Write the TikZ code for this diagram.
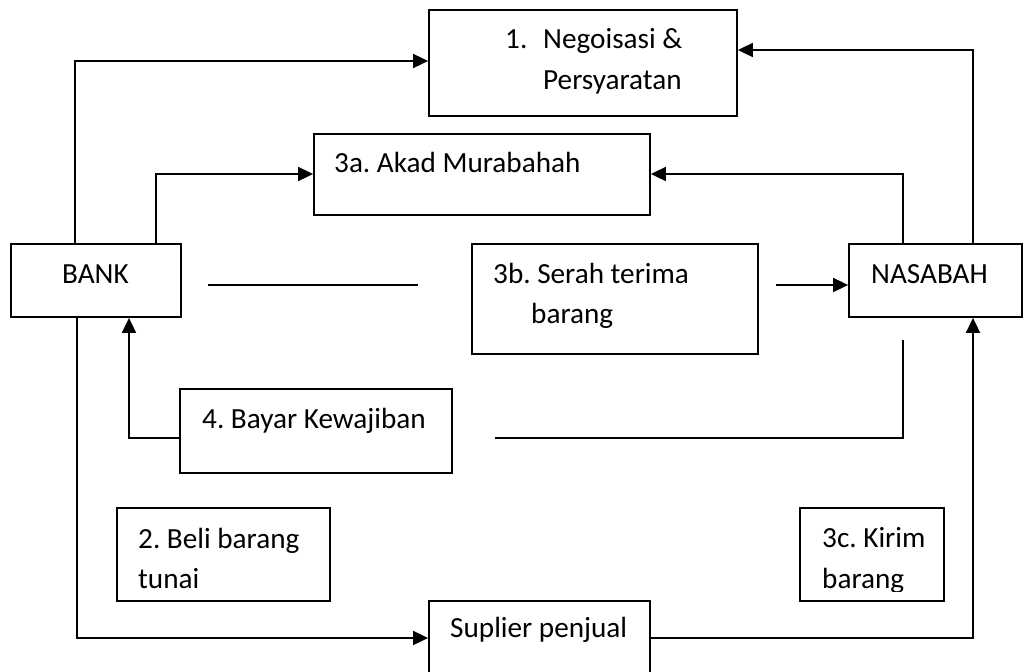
\documentclass[tikz,border=0pt]{standalone}
\usepackage{fontspec}
\setmainfont{Carlito}
\usetikzlibrary{arrows.meta}
\frenchspacing
\tikzset{
  box/.style={draw=black, line width=1.8pt, minimum width=#1, inner sep=0pt},
  txt/.style={anchor=base west, inner sep=0pt, font=\fontsize{29.2}{35}\selectfont},
  conn/.style={line width=1.8pt},
  arr/.style={line width=1.8pt, -{Triangle[length=15pt,width=14pt]}},
}
\begin{document}
\frenchspacing
\begin{tikzpicture}[x=1pt,y=-1pt]
\useasboundingbox (0,0) rectangle (1026,672);
\clip (0,0) rectangle (1026,672);
\fill[white] (0,0) rectangle (1026,672);
% boxes
\node[box=308pt, minimum height=106pt] (b1) at (583,63) {};
\node[box=336pt, minimum height=81pt] (b3a) at (482,174.5) {};
\node[box=170pt, minimum height=73pt] (bank) at (96,280.5) {};
\node[box=286pt, minimum height=110pt] (b3b) at (615,299) {};
\node[box=173pt, minimum height=73pt] (nas) at (935.5,280.5) {};
\node[box=272pt, minimum height=84pt] (b4) at (316,431) {};
\node[box=213pt, minimum height=93pt] (b2) at (223.5,554.5) {};
\node[box=144pt, minimum height=93pt] (b3c) at (872,554.5) {};
\node[box=221pt, minimum height=120pt] (sup) at (539.5,661) {};
% texts
\node[txt] (t1a) at (505,48) {1.};
\node[txt] (t1b) at (543,48) {Negoisasi \&};
\node[txt] (t1c) at (543,89) {Persyaratan};
\node[txt] (t3a) at (334,172) {3a. Akad Murabahah};
\node[txt] (tbank) at (62,283) {BANK};
\node[txt] (t3b1) at (493,283) {3b. Serah terima};
\node[txt] (t3b2) at (531,323) {barang};
\node[txt] (tnas) at (871,283) {NASABAH};
\node[txt] (t4) at (202,428) {4. Bayar Kewajiban};
\node[txt] (t2a) at (138,548) {2. Beli barang};
\node[txt] (t2b) at (138,588) {tunai};
\node[txt] (t3c1) at (822,547) {3c. Kirim};
\begin{scope}
\clip (800,508) rectangle (944,591);
\node[txt] (t3c2) at (822,588) {barang};
\end{scope}
\node[txt] (tsup) at (450,637) {Suplier penjual};
% connectors
\draw[arr] (bank.north -| 75,0) |- (b1.west |- 0,61);
\draw[arr] (bank.north -| 156,0) |- (b3a.west |- 0,174);
\draw[arr] (nas.north -| 973,0) |- (b1.east |- 0,50);
\draw[arr] (nas.north -| 903,0) |- (b3a.east |- 0,174);
\coordinate (l1s) at (208,285);
\coordinate (l1e) at (418,285);
\draw[conn] (l1s) -- (l1e);
\coordinate (a3b) at (776,285);
\draw[arr] (a3b) -- (nas.west |- 0,285);
\coordinate (l2s) at (903,340);
\coordinate (l2e) at (495,438);
\draw[conn] (l2s) |- (l2e);
\draw[arr] (b4.west |- 0,438) -| (bank.south -| 129,0);
\draw[arr] (bank.south -| 77,0) |- (sup.west |- 0,638);
\draw[arr] (sup.east |- 0,638) -| (nas.south -| 973,0);
\end{tikzpicture}
\end{document}
